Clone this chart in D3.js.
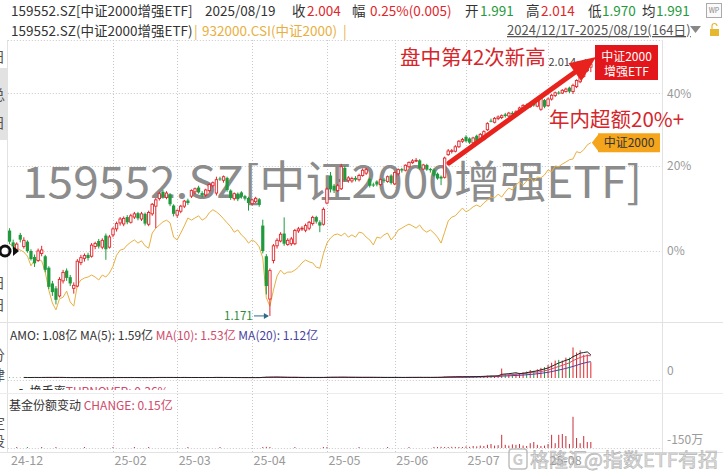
<!DOCTYPE html>
<html><head><meta charset="utf-8">
<script src="https://cdn.jsdelivr.net/npm/d3@7"></script>
<style>
html,body{margin:0;padding:0;background:#fff;}
svg{display:block;font-family:"Noto Sans CJK SC","Microsoft YaHei",sans-serif;}
</style></head><body>
<svg id="c" width="723" height="473"></svg>
<script>
// ---------- DATA ----------
const dates = [
"2024-12-17","2024-12-18","2024-12-19","2024-12-20","2024-12-23","2024-12-24","2024-12-25","2024-12-26","2024-12-27","2024-12-30","2024-12-31",
"2025-01-02","2025-01-03","2025-01-06","2025-01-07","2025-01-08","2025-01-09","2025-01-10","2025-01-13","2025-01-14","2025-01-15","2025-01-16","2025-01-17","2025-01-20","2025-01-21","2025-01-22","2025-01-23","2025-01-24","2025-01-27",
"2025-02-05","2025-02-06","2025-02-07","2025-02-10","2025-02-11","2025-02-12","2025-02-13","2025-02-14","2025-02-17","2025-02-18","2025-02-19","2025-02-20","2025-02-21","2025-02-24","2025-02-25","2025-02-26","2025-02-27","2025-02-28",
"2025-03-03","2025-03-04","2025-03-05","2025-03-06","2025-03-07","2025-03-10","2025-03-11","2025-03-12","2025-03-13","2025-03-14","2025-03-17","2025-03-18","2025-03-19","2025-03-20","2025-03-21","2025-03-24","2025-03-25","2025-03-26","2025-03-27","2025-03-28","2025-03-31",
"2025-04-01","2025-04-02","2025-04-03","2025-04-07","2025-04-08","2025-04-09","2025-04-10","2025-04-11","2025-04-14","2025-04-15","2025-04-16","2025-04-17","2025-04-18","2025-04-21","2025-04-22","2025-04-23","2025-04-24","2025-04-25","2025-04-28","2025-04-29","2025-04-30",
"2025-05-06","2025-05-07","2025-05-08","2025-05-09","2025-05-12","2025-05-13","2025-05-14","2025-05-15","2025-05-16","2025-05-19","2025-05-20","2025-05-21","2025-05-22","2025-05-23","2025-05-26","2025-05-27","2025-05-28","2025-05-29","2025-05-30",
"2025-06-03","2025-06-04","2025-06-05","2025-06-06","2025-06-09","2025-06-10","2025-06-11","2025-06-12","2025-06-13","2025-06-16","2025-06-17","2025-06-18","2025-06-19","2025-06-20","2025-06-23","2025-06-24","2025-06-25","2025-06-26","2025-06-27","2025-06-30",
"2025-07-01","2025-07-02","2025-07-03","2025-07-04","2025-07-07","2025-07-08","2025-07-09","2025-07-10","2025-07-11","2025-07-14","2025-07-15","2025-07-16","2025-07-17","2025-07-18","2025-07-21","2025-07-22","2025-07-23","2025-07-24","2025-07-25","2025-07-28","2025-07-29","2025-07-30","2025-07-31",
"2025-08-01","2025-08-04","2025-08-05","2025-08-06","2025-08-07","2025-08-08","2025-08-11","2025-08-12","2025-08-13","2025-08-14","2025-08-15","2025-08-18","2025-08-19"];

const etfOpen = [
1.405,1.370,1.350,1.392,1.358,1.372,1.345,1.328,1.318,1.338,1.330,
1.298,1.255,1.242,1.222,1.262,1.290,1.272,1.242,1.248,1.312,1.324,1.334,1.330,1.358,1.374,1.356,1.390,1.356,
1.392,1.410,1.428,1.425,1.446,1.430,1.446,1.458,1.440,1.456,1.424,1.456,1.480,1.504,1.526,1.508,1.518,1.482,
1.452,1.464,1.480,1.498,1.512,1.526,1.540,1.522,1.516,1.530,1.546,1.522,1.570,1.564,1.572,1.530,1.504,1.520,1.524,1.512,1.506,
1.488,1.494,1.502,1.420,1.330,1.214,1.318,1.360,1.374,1.396,1.364,1.366,1.366,1.404,1.410,1.406,1.412,1.426,1.446,1.430,1.424,
1.490,1.580,1.546,1.530,1.536,1.606,1.564,1.562,1.572,1.566,1.580,1.588,1.568,1.550,1.560,1.550,1.566,1.560,1.580,
1.552,1.586,1.602,1.598,1.610,1.624,1.630,1.632,1.602,1.616,1.602,1.600,1.586,1.576,1.574,1.652,1.664,1.664,1.680,1.700,
1.716,1.710,1.694,1.720,1.700,1.706,1.742,1.776,1.770,1.784,1.788,1.800,1.794,1.806,1.800,1.810,1.820,1.836,1.830,1.850,1.832,1.820,1.856,
1.834,1.860,1.874,1.886,1.884,1.890,1.906,1.890,1.910,1.930,1.952,1.976,1.991];
const etfHigh = [
1.412,1.378,1.370,1.398,1.385,1.376,1.350,1.335,1.352,1.360,1.334,
1.302,1.262,1.248,1.272,1.292,1.296,1.278,1.258,1.322,1.334,1.338,1.340,1.368,1.372,1.380,1.382,1.396,1.392,
1.415,1.432,1.446,1.448,1.452,1.456,1.462,1.462,1.462,1.460,1.466,1.490,1.506,1.526,1.532,1.528,1.522,1.486,
1.470,1.484,1.500,1.504,1.534,1.540,1.546,1.528,1.536,1.554,1.560,1.576,1.576,1.580,1.576,1.534,1.524,1.524,1.528,1.516,1.510,
1.504,1.510,1.506,1.438,1.336,1.296,1.365,1.382,1.400,1.445,1.382,1.386,1.410,1.416,1.418,1.426,1.434,1.450,1.450,1.436,1.476,
1.540,1.592,1.552,1.552,1.620,1.612,1.578,1.576,1.578,1.586,1.604,1.606,1.572,1.556,1.564,1.570,1.572,1.580,1.584,
1.594,1.604,1.606,1.618,1.628,1.636,1.640,1.636,1.620,1.620,1.606,1.604,1.590,1.580,1.645,1.672,1.672,1.686,1.704,1.712,
1.722,1.714,1.716,1.724,1.730,1.740,1.770,1.784,1.790,1.796,1.800,1.806,1.810,1.812,1.816,1.830,1.840,1.842,1.846,1.854,1.856,1.872,1.860,
1.866,1.880,1.890,1.892,1.900,1.906,1.910,1.922,1.940,1.960,1.980,2.004,2.014];
const etfLow = [
1.365,1.350,1.345,1.370,1.352,1.340,1.318,1.300,1.314,1.330,1.285,
1.240,1.222,1.200,1.218,1.255,1.262,1.248,1.228,1.245,1.305,1.315,1.318,1.326,1.350,1.352,1.350,1.320,1.352,
1.385,1.402,1.420,1.418,1.424,1.426,1.440,1.436,1.434,1.420,1.418,1.450,1.412,1.498,1.504,1.502,1.480,1.448,
1.444,1.458,1.474,1.484,1.506,1.518,1.520,1.508,1.510,1.524,1.540,1.514,1.562,1.556,1.526,1.500,1.498,1.496,1.504,1.498,1.466,
1.482,1.490,1.478,1.338,1.226,1.171,1.310,1.352,1.370,1.360,1.360,1.360,1.362,1.398,1.404,1.400,1.406,1.420,1.426,1.400,1.420,
1.486,1.524,1.522,1.526,1.532,1.560,1.556,1.556,1.560,1.560,1.576,1.582,1.540,1.542,1.544,1.546,1.556,1.556,1.550,
1.548,1.580,1.590,1.594,1.606,1.620,1.626,1.600,1.598,1.596,1.590,1.576,1.566,1.548,1.570,1.648,1.656,1.660,1.676,1.694,
1.696,1.690,1.690,1.696,1.696,1.702,1.738,1.770,1.766,1.778,1.782,1.788,1.790,1.796,1.796,1.806,1.816,1.824,1.826,1.830,1.828,1.814,1.824,
1.830,1.854,1.868,1.878,1.880,1.886,1.884,1.880,1.904,1.924,1.946,1.970,1.970];
const etfClose = [
1.372,1.358,1.365,1.378,1.376,1.345,1.322,1.310,1.345,1.348,1.292,
1.246,1.232,1.212,1.266,1.285,1.270,1.255,1.250,1.316,1.326,1.332,1.325,1.362,1.367,1.358,1.376,1.350,1.386,
1.410,1.426,1.440,1.442,1.430,1.450,1.456,1.442,1.456,1.426,1.460,1.486,1.500,1.520,1.510,1.522,1.486,1.456,
1.466,1.480,1.496,1.490,1.530,1.536,1.524,1.515,1.532,1.550,1.556,1.566,1.568,1.576,1.532,1.506,1.520,1.502,1.510,1.504,1.490,
1.500,1.505,1.484,1.345,1.248,1.290,1.360,1.376,1.394,1.366,1.376,1.380,1.405,1.410,1.412,1.420,1.430,1.445,1.432,1.420,1.470,
1.535,1.534,1.530,1.546,1.610,1.566,1.572,1.570,1.566,1.580,1.598,1.600,1.546,1.549,1.550,1.566,1.562,1.576,1.555,
1.590,1.600,1.597,1.615,1.625,1.630,1.632,1.606,1.616,1.600,1.598,1.580,1.570,1.570,1.640,1.665,1.666,1.680,1.700,1.706,
1.700,1.695,1.712,1.700,1.725,1.735,1.765,1.774,1.785,1.790,1.795,1.794,1.805,1.800,1.810,1.825,1.835,1.830,1.840,1.835,1.850,1.865,1.830,
1.860,1.875,1.885,1.884,1.895,1.900,1.890,1.915,1.935,1.955,1.975,1.999,2.004];
// 932000.CSI (中证2000) change vs. start, %
const indexPct = [
1.5,1.1,0.6,0.2,-0.2,-1.1,-3.1,-1.9,-1.7,-2.1,-4.4,
-8.0,-10.5,-11.8,-9.7,-9.4,-8.2,-10.3,-11.1,-7.0,-6.0,-5.6,-5.4,-5.0,-5.4,-6.0,-5.0,-5.4,-4.6,
-3.2,-0.9,0.2,0.4,1.3,1.9,2.4,1.7,2.2,1.1,0.6,3.9,5.0,5.7,6.4,6.8,6.2,3.0,
2.4,3.9,5.5,7.3,6.8,7.3,7.8,6.8,7.3,8.5,9.2,8.7,8.0,7.1,6.2,5.3,4.1,4.6,3.5,2.8,1.7,
2.4,1.9,0.9,-1.5,-9.5,-11.1,-8.0,-5.2,-4.0,-4.8,-4.4,-4.4,-4.0,-3.4,-2.5,-1.9,-2.3,-2.5,-3.4,-3.6,-0.6,
1.7,2.8,3.5,3.7,3.3,3.9,3.0,3.5,3.0,4.1,3.9,3.0,2.4,1.3,3.0,2.8,3.5,3.9,2.4,
3.3,4.6,5.0,5.5,5.9,5.5,5.0,5.7,4.6,4.1,4.6,3.9,3.0,1.7,4.1,6.6,7.5,7.8,8.7,9.6,
8.7,9.2,9.9,10.3,9.9,10.8,11.5,12.2,12.0,12.9,12.2,13.4,14.4,13.9,15.1,15.9,15.1,16.1,16.9,15.9,17.1,16.9,17.6,
18.9,18.4,19.9,19.7,20.4,20.9,21.5,21.7,23.6,23.3,24.1,25.4,26.0];
// turnover amount, 亿
const amo = [
0.05,0.04,0.03,0.04,0.03,0.03,0.04,0.05,0.03,0.03,0.04,
0.05,0.04,0.04,0.03,0.03,0.02,0.03,0.02,0.04,0.03,0.03,0.02,0.03,0.03,0.02,0.03,0.04,0.03,
0.03,0.04,0.04,0.03,0.03,0.04,0.03,0.03,0.02,0.03,0.03,0.04,0.05,0.04,0.03,0.03,0.04,0.04,
0.03,0.03,0.04,0.03,0.04,0.03,0.03,0.03,0.04,0.04,0.03,0.05,0.03,0.03,0.04,0.03,0.03,0.02,0.03,0.03,0.03,
0.03,0.03,0.03,0.08,0.09,0.07,0.05,0.04,0.04,0.05,0.03,0.03,0.04,0.03,0.03,0.03,0.03,0.04,0.03,0.03,0.04,
0.06,0.07,0.05,0.04,0.06,0.05,0.04,0.04,0.03,0.04,0.04,0.05,0.04,0.03,0.03,0.04,0.03,0.04,0.03,
0.04,0.04,0.03,0.04,0.04,0.05,0.04,0.04,0.03,0.04,0.04,0.05,0.05,0.06,0.10,0.09,0.08,0.08,0.09,0.08,
0.10,0.09,0.10,0.12,0.11,0.14,0.16,0.15,0.14,0.16,0.65,0.28,0.25,0.30,0.32,0.35,0.40,0.45,0.55,0.50,0.60,0.70,0.75,
0.90,1.05,1.20,1.25,1.20,1.40,1.40,2.10,1.75,1.90,1.60,1.62,1.08];
// fund share change, 亿
const shareChange = [
0,0,0.01,0,0,-0.01,0,0,0,0.01,0,
0,0,0.01,0,0,0,0,0,0,0,0.01,0,0,0,0,0,0,0,
0.01,0,0,0,0,0,0.01,0,0,0,0.01,0,0,0,0,0,0,0,
0,0,0,0.01,0,0,0,0,0,0,0,0,0.01,0,0,0,0,0,0,0,0,
0,0,0,0.02,0.03,0.02,0,0,0,0,0,0,0.01,0,0,0,0,0,0,0,0.01,
0.01,0,0,0,0,0,0,0,0,0.01,0,0,0,0,0,0,0,0.01,0,
0,0,0,0,0.01,0,0,0,0,0,0,0.01,0.02,0.03,0.02,0.02,0.03,0.01,0.02,0.02,
0.04,0.03,0.05,0.04,0.06,0.05,0.08,0.10,0.06,0.07,0.33,0.08,0.06,0.09,0.08,0.10,0.06,0.05,0.12,0.15,0.08,0.05,0.06,
0.10,0.33,0.12,0.33,0.35,0.30,0.10,0.78,0.25,0.12,0.30,0.15,0.15];
const pctTicks = [0, 20, 40];
const basePrice = 1.345;

// ---------- DRAW ----------
const svg = d3.select("#c");
const n = dates.length;
const RED = "#e0262b", GREEN = "#1f9a3c", ORANGE = "#e8b040";
const x = d3.scaleBand().domain(d3.range(n)).range([7.8, 7.8 + 3.566 * n]);
const xc = i => x(i) + x.bandwidth() / 2;
const yPct = d3.scaleLog().domain([1, 1.4]).range([251, 93.3]);
const yP = v => yPct(v / basePrice);
const plotR = 662;
const yAmo = d3.scaleLinear().domain([0, 2.2]).range([378, 346]);
const yChg = d3.scaleLinear().domain([0, 0.8]).range([448, 416]);

svg.append("rect").attr("width", 723).attr("height", 473).attr("fill", "#fff");

const g = svg.append("g");
const solid = (x1, y1, x2, y2, c) => g.append("line").attr("x1", x1).attr("y1", y1).attr("x2", x2).attr("y2", y2).attr("stroke", c || "#e2e2e2").attr("stroke-width", 1);
const dotted = (x1, y1, x2, y2) => g.append("line").attr("x1", x1).attr("y1", y1).attr("x2", x2).attr("y2", y2).attr("stroke", "#c8c8c8").attr("stroke-width", 1).attr("stroke-dasharray", "1,2");
solid(7.5, 40, 7.5, 452);
solid(plotR + 0.5, 40, plotR + 0.5, 452);
dotted(7.8, 40.5, plotR, 40.5);
solid(0, 322.5, 723, 322.5);
solid(0, 393.5, 723, 393.5, "#ececec");
solid(0, 452.5, 723, 452.5);
dotted(7.8, 380.5, plotR, 380.5);
dotted(7.8, 448.5, plotR, 448.5);
pctTicks.forEach(p => dotted(7.8, Math.round(yPct(1 + p / 100)) + 0.5, plotR, Math.round(yPct(1 + p / 100)) + 0.5));

// month starts (a month is skipped when too close to the previous label)
const monthStarts = [];
d3.range(n).forEach(i => {
  if (i === 0 || dates[i].slice(0, 7) !== dates[i - 1].slice(0, 7)) {
    if (!monthStarts.length || xc(i) - xc(monthStarts[monthStarts.length - 1]) > 50) monthStarts.push(i);
  }
});
monthStarts.filter(i => i > 0).forEach(i => dotted(Math.round(xc(i)) + 0.5, 40, Math.round(xc(i)) + 0.5, 452));

// big watermark
svg.append("text").attr("x", 22).attr("y", 198).attr("font-size", 44).attr("fill", "#8c8c8c")
  .attr("textLength", 620).attr("lengthAdjust", "spacingAndGlyphs")
  .text("159552.SZ[中证2000增强ETF]");

// index line
svg.append("path").datum(indexPct).attr("fill", "none").attr("stroke", ORANGE).attr("stroke-width", 1)
  .attr("d", d3.line().x((d, i) => xc(i)).y(d => yPct(1 + d / 100)));

// candles
const cg = svg.append("g");
d3.range(n).forEach(i => {
  const up = etfClose[i] >= etfOpen[i];
  const col = up ? RED : GREEN;
  const cx = xc(i);
  cg.append("line").attr("x1", cx).attr("x2", cx).attr("y1", yP(etfHigh[i])).attr("y2", yP(etfLow[i])).attr("stroke", col).attr("stroke-width", 1);
  const y1 = yP(Math.max(etfOpen[i], etfClose[i])), y2 = yP(Math.min(etfOpen[i], etfClose[i]));
  if (up) {
    cg.append("rect").attr("x", cx - 1.2).attr("y", y1).attr("width", 2.4).attr("height", Math.max(0.8, y2 - y1))
      .attr("fill", "#fff").attr("stroke", col).attr("stroke-width", 0.9);
  } else {
    cg.append("rect").attr("x", cx - 1.6).attr("y", y1).attr("width", 3.2).attr("height", Math.max(1, y2 - y1)).attr("fill", col);
  }
});

// high / low markers
const hiI = d3.maxIndex(etfHigh), loI = d3.minIndex(etfLow);
svg.append("text").attr("x", 576).attr("y", yP(etfHigh[hiI]) + 4).attr("text-anchor", "end").attr("font-size", 11).attr("fill", "#444").text(d3.format(".3f")(etfHigh[hiI]));
svg.append("line").attr("x1", 577).attr("x2", xc(hiI) - 2).attr("y1", yP(etfHigh[hiI])).attr("y2", yP(etfHigh[hiI])).attr("stroke", "#3a6a8a").attr("stroke-width", 1);
svg.append("path").attr("d", `M${xc(hiI) - 1},${yP(etfHigh[hiI])} l-5,-3 l0,6 z`).attr("fill", "#3a6a8a");
svg.append("text").attr("x", 224).attr("y", yP(etfLow[loI]) + 4).attr("font-size", 11.5).attr("fill", "#2f8a3a").text(d3.format(".3f")(etfLow[loI]));
svg.append("line").attr("x1", 254).attr("x2", xc(loI) - 2).attr("y1", yP(etfLow[loI])).attr("y2", yP(etfLow[loI])).attr("stroke", "#2f6a8a").attr("stroke-width", 1);
svg.append("path").attr("d", `M${xc(loI) - 1},${yP(etfLow[loI])} l-5,-3 l0,6 z`).attr("fill", "#2f6a8a");

// red arrow annotation
(function () {
  const s = [449, 163], t = [596, 57];
  const dx = t[0] - s[0], dy = t[1] - s[1], L = Math.hypot(dx, dy), ux = dx / L, uy = dy / L, px = -uy, py = ux;
  const bx = t[0] - 26 * ux, by = t[1] - 26 * uy;
  svg.append("line").attr("x1", s[0]).attr("y1", s[1]).attr("x2", bx).attr("y2", by).attr("stroke", "#e8231d").attr("stroke-width", 5).attr("stroke-linecap", "round");
  svg.append("path").attr("d", `M${t[0]},${t[1]} L${bx + 11 * px},${by + 11 * py} L${bx - 11 * px},${by - 11 * py} Z`).attr("fill", "#e8231d");
})();
svg.append("text").attr("x", 400).attr("y", 65).attr("font-size", 20.5).attr("fill", "#d4262b").text("盘中第42次新高");
svg.append("text").attr("x", 549).attr("y", 127).attr("font-size", 20.5).attr("fill", "#d4262b").text("年内超额20%+");
svg.append("rect").attr("x", 595).attr("y", 45).attr("width", 63).attr("height", 35).attr("fill", "#e3161b");
svg.append("text").attr("x", 626.5).attr("y", 61).attr("text-anchor", "middle").attr("font-size", 12).attr("fill", "#fff").text("中证2000");
svg.append("text").attr("x", 626.5).attr("y", 76).attr("text-anchor", "middle").attr("font-size", 12).attr("fill", "#fff").text("增强ETF");
const tagY = yPct(1 + indexPct[n - 1] / 100);
svg.append("path").attr("d", `M${xc(n - 1) + 1},${tagY} L598,${tagY - 8} L598,${tagY - 9.5} L660,${tagY - 9.5} L660,${tagY + 9.5} L598,${tagY + 9.5} L598,${tagY + 8} Z`).attr("fill", "#f4a51c");
svg.append("text").attr("x", 629).attr("y", tagY + 4.5).attr("text-anchor", "middle").attr("font-size", 12).attr("fill", "#333").text("中证2000");

// right percent axis
const ax = svg.append("g").attr("transform", `translate(663,0)`)
  .call(d3.axisRight(yPct).tickValues(pctTicks.map(p => 1 + p / 100)).tickSize(0).tickPadding(4).tickFormat(v => Math.round((v - 1) * 100) + "%"));
ax.select(".domain").remove();
ax.selectAll("text").attr("font-size", 12).attr("fill", "#9a9a9a").attr("font-family", "Noto Sans CJK SC");

// left partial marker and cut-off side panel
svg.append("circle").attr("cx", 5).attr("cy", 251).attr("r", 5).attr("fill", "none").attr("stroke", "#111").attr("stroke-width", 3);
svg.append("path").attr("d", "M13,246 L19,251 L13,256 Z").attr("fill", "#111");
svg.append("rect").attr("x", 0).attr("y", 68).attr("width", 7).attr("height", 72).attr("fill", "#e2e2e2");
[["日", 62], ["总", 100], ["日", 128], ["日", 288], ["日", 310], ["分", 360], ["律", 380], ["定", 428], ["投", 446]]
  .forEach(([t, yy]) => svg.append("text").attr("x", -9).attr("y", yy).attr("font-size", 14).attr("fill", "#555").text(t));

// ---------- AMO panel ----------
const ma = (arr, k) => arr.map((d, i) => i < k - 1 ? null : d3.mean(arr.slice(i - k + 1, i + 1)));
const ma5 = ma(amo, 5), ma10 = ma(amo, 10), ma20 = ma(amo, 20);
d3.range(n).forEach(i => {
  svg.append("line").attr("x1", xc(i)).attr("x2", xc(i)).attr("y1", yAmo(0)).attr("y2", yAmo(amo[i]))
    .attr("stroke", etfClose[i] >= etfOpen[i] ? RED : GREEN).attr("stroke-width", 1);
});
[[ma20, "#4b3fa0"], [ma10, "#d04a6a"], [ma5, "#222"]].forEach(([arr, c]) => {
  svg.append("path").datum(arr).attr("fill", "none").attr("stroke", c).attr("stroke-width", 1)
    .attr("d", d3.line().defined(d => d !== null).x((d, i) => xc(i)).y(d => yAmo(d)));
});
const f2 = d3.format(".2f");
const amoT = svg.append("text").attr("x", 10).attr("y", 340).attr("font-size", 12);
amoT.append("tspan").attr("fill", "#333").text(`AMO: ${f2(amo[n - 1])}亿 MA(5): ${f2(ma5[n - 1])}亿 `);
amoT.append("tspan").attr("fill", "#d04a6a").text(`MA(10): ${f2(ma10[n - 1])}亿 `);
amoT.append("tspan").attr("fill", "#4b3fa0").text(`MA(20): ${f2(ma20[n - 1])}亿`);
svg.append("text").attr("x", 667).attr("y", 375).attr("font-size", 12).attr("fill", "#9a9a9a").text("0");

// clipped turnover row (only its top shows, as in the original)
svg.append("clipPath").attr("id", "clipT").append("rect").attr("x", 0).attr("y", 380).attr("width", 723).attr("height", 10);
const tv = svg.append("text").attr("x", 15).attr("y", 396).attr("font-size", 12).attr("clip-path", "url(#clipT)");
tv.append("tspan").attr("fill", "#333").text("▪ 换手率");
tv.append("tspan").attr("fill", "#d04a6a").text("TURNOVER: 0.36%");

// ---------- share change panel ----------
const chT = svg.append("text").attr("x", 9).attr("y", 410).attr("font-size", 12);
chT.append("tspan").attr("fill", "#333").text("基金份额变动 ");
chT.append("tspan").attr("fill", "#d04a6a").text(`CHANGE: ${f2(shareChange[n - 1])}亿`);
d3.range(n).forEach(i => {
  const v = shareChange[i];
  if (v === 0) return;
  svg.append("line").attr("x1", xc(i)).attr("x2", xc(i)).attr("y1", yChg(0)).attr("y2", Math.min(yChg(0) - 1, yChg(v)))
    .attr("stroke", v > 0 ? "#c8303a" : GREEN).attr("stroke-width", 1);
});
svg.append("text").attr("x", 667).attr("y", 444).attr("font-size", 12).attr("fill", "#9a9a9a").text("-150万");

// date axis labels
monthStarts.forEach(i => {
  svg.append("text").attr("x", xc(i) + 1.5).attr("y", 465).attr("font-size", 12.5).attr("fill", "#9a9a9a")
    .text(dates[i].slice(2, 7));
});

// ---------- header ----------
const hdr = (t, xx, yy, c, fs) => svg.append("text").attr("x", xx).attr("y", yy).attr("font-size", fs || 13.5).attr("fill", c).text(t);
const last = n - 1, prev = etfClose[last - 1];
hdr("159552.SZ[中证2000增强ETF]", 11, 16, "#333");
hdr(dates[last].replace(/-/g, "/"), 205, 16, "#333");
hdr("收", 292, 16, "#333"); hdr(d3.format(".3f")(etfClose[last]), 307, 16, RED);
hdr("幅", 352, 16, "#333");
hdr(`${f2((etfClose[last] / prev - 1) * 100)}%(${d3.format(".3f")(etfClose[last] - prev)})`, 370, 16, RED);
hdr("开", 465, 16, "#333"); hdr(d3.format(".3f")(etfOpen[last]), 480, 16, GREEN);
hdr("高", 526, 16, "#333"); hdr(d3.format(".3f")(etfHigh[last]), 541, 16, RED);
hdr("低", 588, 16, "#333"); hdr(d3.format(".3f")(etfLow[last]), 602, 16, GREEN);
hdr("均", 642, 16, "#333"); hdr("1.991", 656, 16, GREEN);
svg.append("rect").attr("x", 706.5).attr("y", 3.5).attr("width", 15).attr("height", 14).attr("fill", "#fafafa").attr("stroke", "#aaa");
svg.append("text").attr("x", 714).attr("y", 13).attr("text-anchor", "middle").attr("font-size", 7).attr("fill", "#888").text("WP");

hdr("159552.SZ(中证2000增强ETF)", 11, 36, "#333");
hdr("|", 194, 36, ORANGE);
hdr("932000.CSI(中证2000)", 202, 36, ORANGE);
hdr("|", 343, 36, ORANGE);
hdr(`${dates[0].replace(/-/g, "/")}-${dates[last].replace(/-/g, "/")}(${n}日)`, 507, 35, "#555", 13)
  .attr("text-decoration", "underline");
svg.append("path").attr("d", "M690,26 L701,26 L695.5,33 Z").attr("fill", "#888");
svg.append("rect").attr("x", 710).attr("y", 29).attr("width", 9).attr("height", 7).attr("fill", "#e6b830");
svg.append("path").attr("d", "M712,29 v-3 a2.5,2.5 0 0 1 5,0").attr("fill", "none").attr("stroke", "#e6b830").attr("stroke-width", 1.2);

// bottom source watermark
const wm = svg.append("g").attr("opacity", 0.75);
wm.append("rect").attr("x", 509).attr("y", 449).attr("width", 18).attr("height", 20).attr("rx", 3).attr("fill", "none").attr("stroke", "#aaa").attr("stroke-width", 1.5);
wm.append("text").attr("x", 518).attr("y", 465).attr("text-anchor", "middle").attr("font-size", 15).attr("font-weight", "bold").attr("fill", "#bbb").text("G");
wm.append("text").attr("x", 530).attr("y", 467).attr("font-size", 19).attr("fill", "#d8d8d8").attr("stroke", "#999").attr("stroke-width", 0.6).text("格隆汇");
wm.append("text").attr("x", 584).attr("y", 467).attr("font-size", 19).attr("fill", "#d8d8d8").attr("stroke", "#999").attr("stroke-width", 0.6)
  .attr("textLength", 134).attr("lengthAdjust", "spacingAndGlyphs").text("@指数ETF有招");
</script>
</body></html>
